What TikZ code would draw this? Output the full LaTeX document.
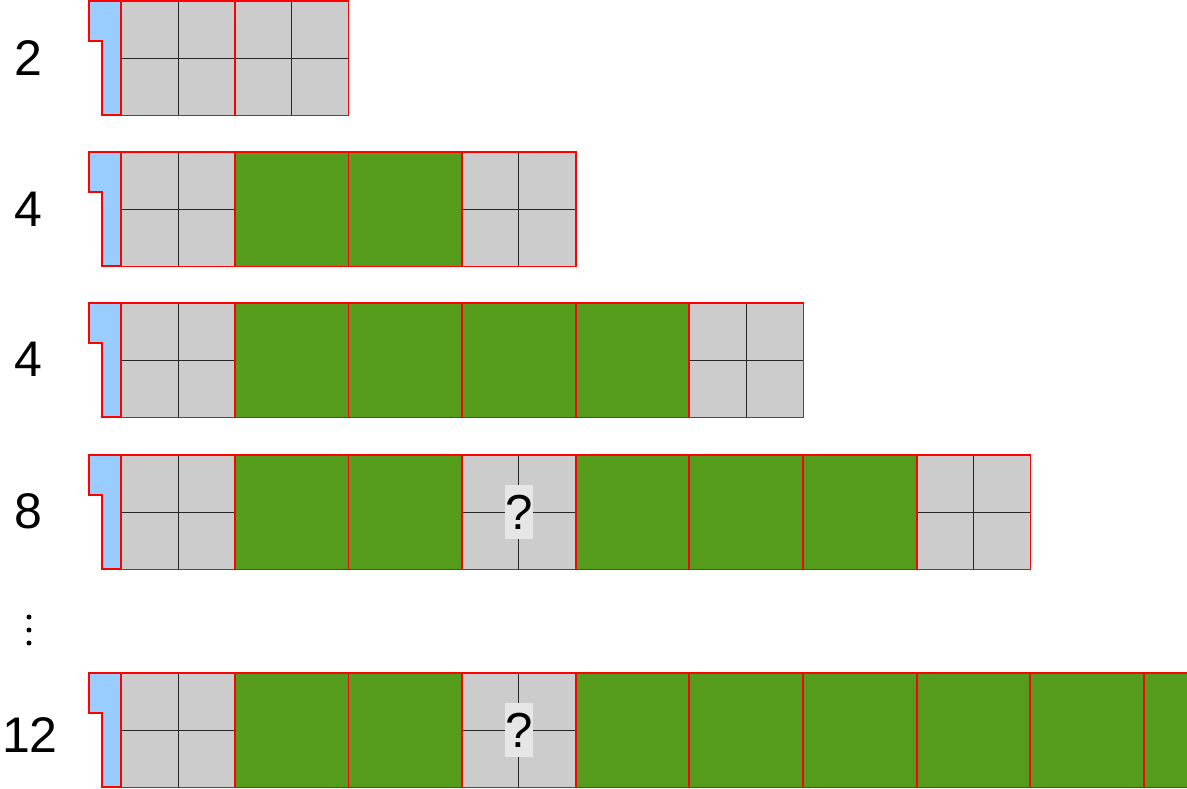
\documentclass[tikz,border=0pt]{standalone}
\usepackage{fontspec}
\setmainfont{Liberation Sans}
\definecolor{tabblue}{HTML}{99CCFF}
\definecolor{cellgray}{HTML}{CCCCCC}
\definecolor{cellgreen}{HTML}{559B1C}
\definecolor{qgray}{HTML}{E6E6E6}

\tikzset{
    cellbase/.style={rectangle, anchor=north west, inner sep=0pt, minimum width=2.272cm, minimum height=2.28cm},
    cellg/.style={cellbase, fill=cellgray, path picture={
        \draw[black!85, line width=0.6pt] (path picture bounding box.north) -- (path picture bounding box.south)
            (path picture bounding box.west) -- (path picture bounding box.east);}},
    cellG/.style={cellbase, fill=cellgreen},
    cellq/.style={cellg},
    cellborder/.style={draw=red, line width=0.7pt},
    qmark/.style={fill=qgray, inner sep=0pt, minimum width=0.54cm, minimum height=1.08cm, font=\fontsize{28}{34}\selectfont},
    rowlabel/.style={font=\fontsize{28.5}{34}\selectfont},
    tabshape/.style={fill=tabblue, draw=red, line width=0.7pt}
}

% one row: name, top edge, cell types
\newcommand{\cellrow}[3]{%
    \draw[tabshape] (89,#2) -- (121,#2) -- (121,#2+114) -- (102,#2+114) -- (102,#2+40) -- (89,#2+40) -- cycle;
    \foreach \t [count=\i] in {#3}
        \node[cell\t] (#1c\i) at ({121+113.6*(\i-1)},#2) {};
    \foreach \t [count=\i] in {#3}
        \draw[cellborder] (#1c\i.north west) rectangle (#1c\i.south east);
}

\begin{document}
\begin{tikzpicture}[x=0.02cm, y=-0.02cm]
    \path[use as bounding box, clip] (0,0) rectangle (1187,788);

    % Rows
    \cellrow{r1}{1}{g,g}
    \cellrow{r2}{152}{g,G,G,g}
    \cellrow{r3}{303}{g,G,G,G,G,g}
    \cellrow{r4}{455}{g,G,G,q,G,G,G,g}
    \cellrow{r5}{673}{g,G,G,q,G,G,G,G,G,G}

    % Unknown cells
    \node[qmark] (q4) at (r4c4) {?};
    \node[qmark] (q5) at (r5c4) {?};

    % Labels
    \node[rowlabel] (n1) at (28,58) {2};
    \node[rowlabel] (n2) at (28,209) {4};
    \node[rowlabel] (n3) at (28,359) {4};
    \node[rowlabel] (n4) at (28,511) {8};
    \node[rowlabel] (n5) at (30,735) {12};

    % Dots
    \foreach \y in {617,630,643}
        \fill (29,\y) circle[radius=0.05cm];
\end{tikzpicture}
\end{document}
